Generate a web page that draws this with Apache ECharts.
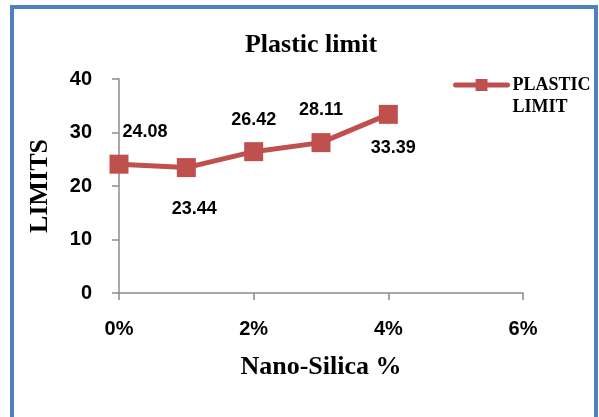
<!DOCTYPE html>
<html>
<head>
<meta charset="utf-8">
<script src="https://cdn.jsdelivr.net/npm/echarts@6/dist/echarts.min.js"></script>
<style>
  html, body { margin: 0; padding: 0; background: #fff; }
  #chart { width: 599px; height: 417px; }
</style>
</head>
<body>
<div id="chart"></div>
<script>
// nano-silica content (%) and measured plastic limit
const silica = [0, 1, 2, 3, 4];
const plasticLimit = [24.08, 23.44, 26.42, 28.11, 33.39];
// where each value label sits relative to its point
const labelOffsets = [[26, -32], [8, 41], [0, -32], [0, -33], [5, 34]];

const chart = echarts.init(document.getElementById("chart"), null, { renderer: "canvas" });

const axisGrey = "#8c8c8c";
const lineRed = "#c0504d";

const option = {
  animation: false,
  backgroundColor: "#fff",
  graphic: [
    {
      type: "rect",
      shape: { x: 12, y: 7, width: 584, height: 430 },
      style: { fill: "none", stroke: "#4f81bd", lineWidth: 4 },
      z: 100,
    },
  ],
  title: {
    text: "Plastic limit",
    left: 306,
    top: 27,
    textAlign: "center",
    textStyle: {
      fontFamily: "Liberation Serif",
      fontWeight: "bold",
      fontSize: 26,
      color: "#000",
    },
  },
  legend: {
    left: 453,
    top: 52,
    padding: 0,
    itemWidth: 52,
    itemHeight: 15,
    itemGap: 4,
    data: ["PLASTIC\nLIMIT"],
    lineStyle: { width: 5, cap: "round" },
    // empty first line keeps "PLASTIC" level with the icon
    formatter: (name) => "\n" + name,
    textStyle: {
      fontFamily: "Liberation Serif",
      fontWeight: "bold",
      fontSize: 18,
      lineHeight: 22,
      color: "#000",
    },
  },
  grid: {
    left: 119,
    right: 76,
    top: 79,
    bottom: 124,
  },
  xAxis: {
    type: "value",
    min: 0,
    max: 6,
    interval: 2,
    name: "Nano-Silica %",
    nameLocation: "middle",
    nameGap: 61,
    nameTextStyle: {
      fontFamily: "Liberation Serif",
      fontWeight: "bold",
      fontSize: 26,
      color: "#000",
    },
    splitLine: { show: false },
    axisLine: { show: true, lineStyle: { color: axisGrey, width: 1.5 } },
    axisTick: { show: true, length: 7, lineStyle: { color: axisGrey, width: 1.5 } },
    axisLabel: {
      margin: 26,
      fontFamily: "Liberation Sans",
      fontWeight: "bold",
      fontSize: 20,
      color: "#000",
      formatter: (v) => v + "%",
    },
  },
  yAxis: {
    type: "value",
    min: 0,
    max: 40,
    interval: 10,
    name: "LIMITS",
    nameLocation: "middle",
    nameGap: 66,
    nameTextStyle: {
      fontFamily: "Liberation Serif",
      fontWeight: "bold",
      fontSize: 26,
      color: "#000",
    },
    splitLine: { show: false },
    axisLine: { show: true, lineStyle: { color: axisGrey, width: 1.5 } },
    axisTick: { show: true, length: 7, lineStyle: { color: axisGrey, width: 1.5 } },
    axisLabel: {
      margin: 27,
      fontFamily: "Liberation Sans",
      fontWeight: "bold",
      fontSize: 20,
      color: "#000",
    },
  },
  series: [
    {
      name: "PLASTIC\nLIMIT",
      type: "line",
      symbol: "rect",
      symbolSize: 19,
      lineStyle: { color: lineRed, width: 5 },
      itemStyle: { color: lineRed },
      data: silica.map((x, i) => ({
        value: [x, plasticLimit[i]],
        label: {
          show: true,
          position: "inside",
          offset: labelOffsets[i],
          formatter: plasticLimit[i].toFixed(2),
          fontFamily: "Liberation Sans",
          fontWeight: "bold",
          fontSize: 18,
          color: "#000",
        },
      })),
    },
  ],
};

chart.setOption(option);
</script>
</body>
</html>
